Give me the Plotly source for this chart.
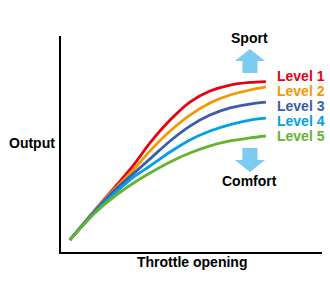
import plotly.graph_objects as go

throttle = [3.4, 13.0, 20.7, 28.4, 34.1, 41.8, 49.4, 57.1, 64.8, 72.4, 78.5]
level1 = [5.6, 19.4, 30.1, 41.2, 50.5, 61.1, 69.4, 74.5, 77.3, 78.5, 78.9]
level2 = [5.6, 19.2, 29.4, 38.9, 46.8, 56.0, 63.4, 69.0, 72.7, 75.0, 76.4]
level3 = [5.6, 19.0, 28.7, 37.0, 43.1, 51.4, 58.3, 63.4, 66.7, 68.5, 69.4]
level4 = [5.6, 18.5, 27.3, 35.2, 39.8, 46.3, 51.9, 56.0, 59.0, 61.1, 62.0]
level5 = [5.6, 18.1, 25.9, 32.4, 36.6, 41.7, 45.8, 49.1, 51.4, 52.8, 53.7]
names = ["Level 1", "Level 2", "Level 3", "Level 4", "Level 5"]
colors = ["#e60012", "#f39800", "#3a5dab", "#00a0e9", "#65b32e"]
label_y = [81.5, 74.7, 67.6, 60.8, 53.7]

series = [level1, level2, level3, level4, level5]
FONT = "Liberation Sans, Arial, sans-serif"
PL, PT, PW, PH = 61, 36, 261, 216


def px_to_paper(x, y):
    return (x - PL) / PW, (PT + PH - y) / PH


fig = go.Figure()
for name, ys, c in zip(names, series, colors):
    fig.add_trace(go.Scatter(x=throttle, y=ys, mode="lines", name=name,
                             line=dict(color=c, width=2.8, shape="spline", smoothing=0.8),
                             hoverinfo="skip"))

ann = []
for name, c, ly in zip(names, colors, label_y):
    ann.append(dict(x=82.0, y=ly, xref="x", yref="y", text=name, showarrow=False,
                    xanchor="left", yanchor="middle",
                    font=dict(family=FONT, size=14, color=c, weight="bold")))
ann.append(dict(x=72.4, y=99.2, xref="x", yref="y", text="Sport", showarrow=False,
                xanchor="center", yanchor="middle",
                font=dict(family=FONT, size=14, color="black", weight="bold")))
ann.append(dict(x=72.4, y=33.0, xref="x", yref="y", text="Comfort", showarrow=False,
                xanchor="center", yanchor="middle",
                font=dict(family=FONT, size=14, color="black", weight="bold")))
ox, oy = px_to_paper(32, 143)
ann.append(dict(x=ox, y=oy, xref="paper", yref="paper", text="Output", showarrow=False,
                xanchor="center", yanchor="middle",
                font=dict(family=FONT, size=14, color="black", weight="bold")))
tx, ty = px_to_paper(192, 262)
ann.append(dict(x=tx, y=ty, xref="paper", yref="paper", text="Throttle opening", showarrow=False,
                xanchor="center", yanchor="middle",
                font=dict(family=FONT, size=14, color="black", weight="bold")))

arrow_color = "#7ecbf2"
cx = 72.4
up = (f"M {cx-2.9},82.9 L {cx+2.9},82.9 L {cx+2.9},88.4 L {cx+5.8},88.4 "
      f"L {cx},94.0 L {cx-5.8},88.4 L {cx-2.9},88.4 Z")
down = (f"M {cx-2.9},48.1 L {cx+2.9},48.1 L {cx+2.9},42.6 L {cx+5.8},42.6 "
        f"L {cx},37.0 L {cx-5.8},42.6 L {cx-2.9},42.6 Z")
shapes = [dict(type="path", path=up, xref="x", yref="y", fillcolor=arrow_color, line=dict(width=0)),
          dict(type="path", path=down, xref="x", yref="y", fillcolor=arrow_color, line=dict(width=0))]

fig.update_layout(
    width=330, height=290,
    margin=dict(l=PL, r=330 - PL - PW, t=PT, b=290 - PT - PH, pad=0),
    paper_bgcolor="white", plot_bgcolor="white",
    showlegend=False,
    annotations=ann, shapes=shapes,
    xaxis=dict(range=[0, 100], showgrid=False, zeroline=False, showticklabels=False,
               ticks="", showline=True, linecolor="black", linewidth=2, fixedrange=True),
    yaxis=dict(range=[0, 100], showgrid=False, zeroline=False, showticklabels=False,
               ticks="", showline=True, linecolor="black", linewidth=2, fixedrange=True),
)
fig.write_html("out.html", config={"displayModeBar": False})
